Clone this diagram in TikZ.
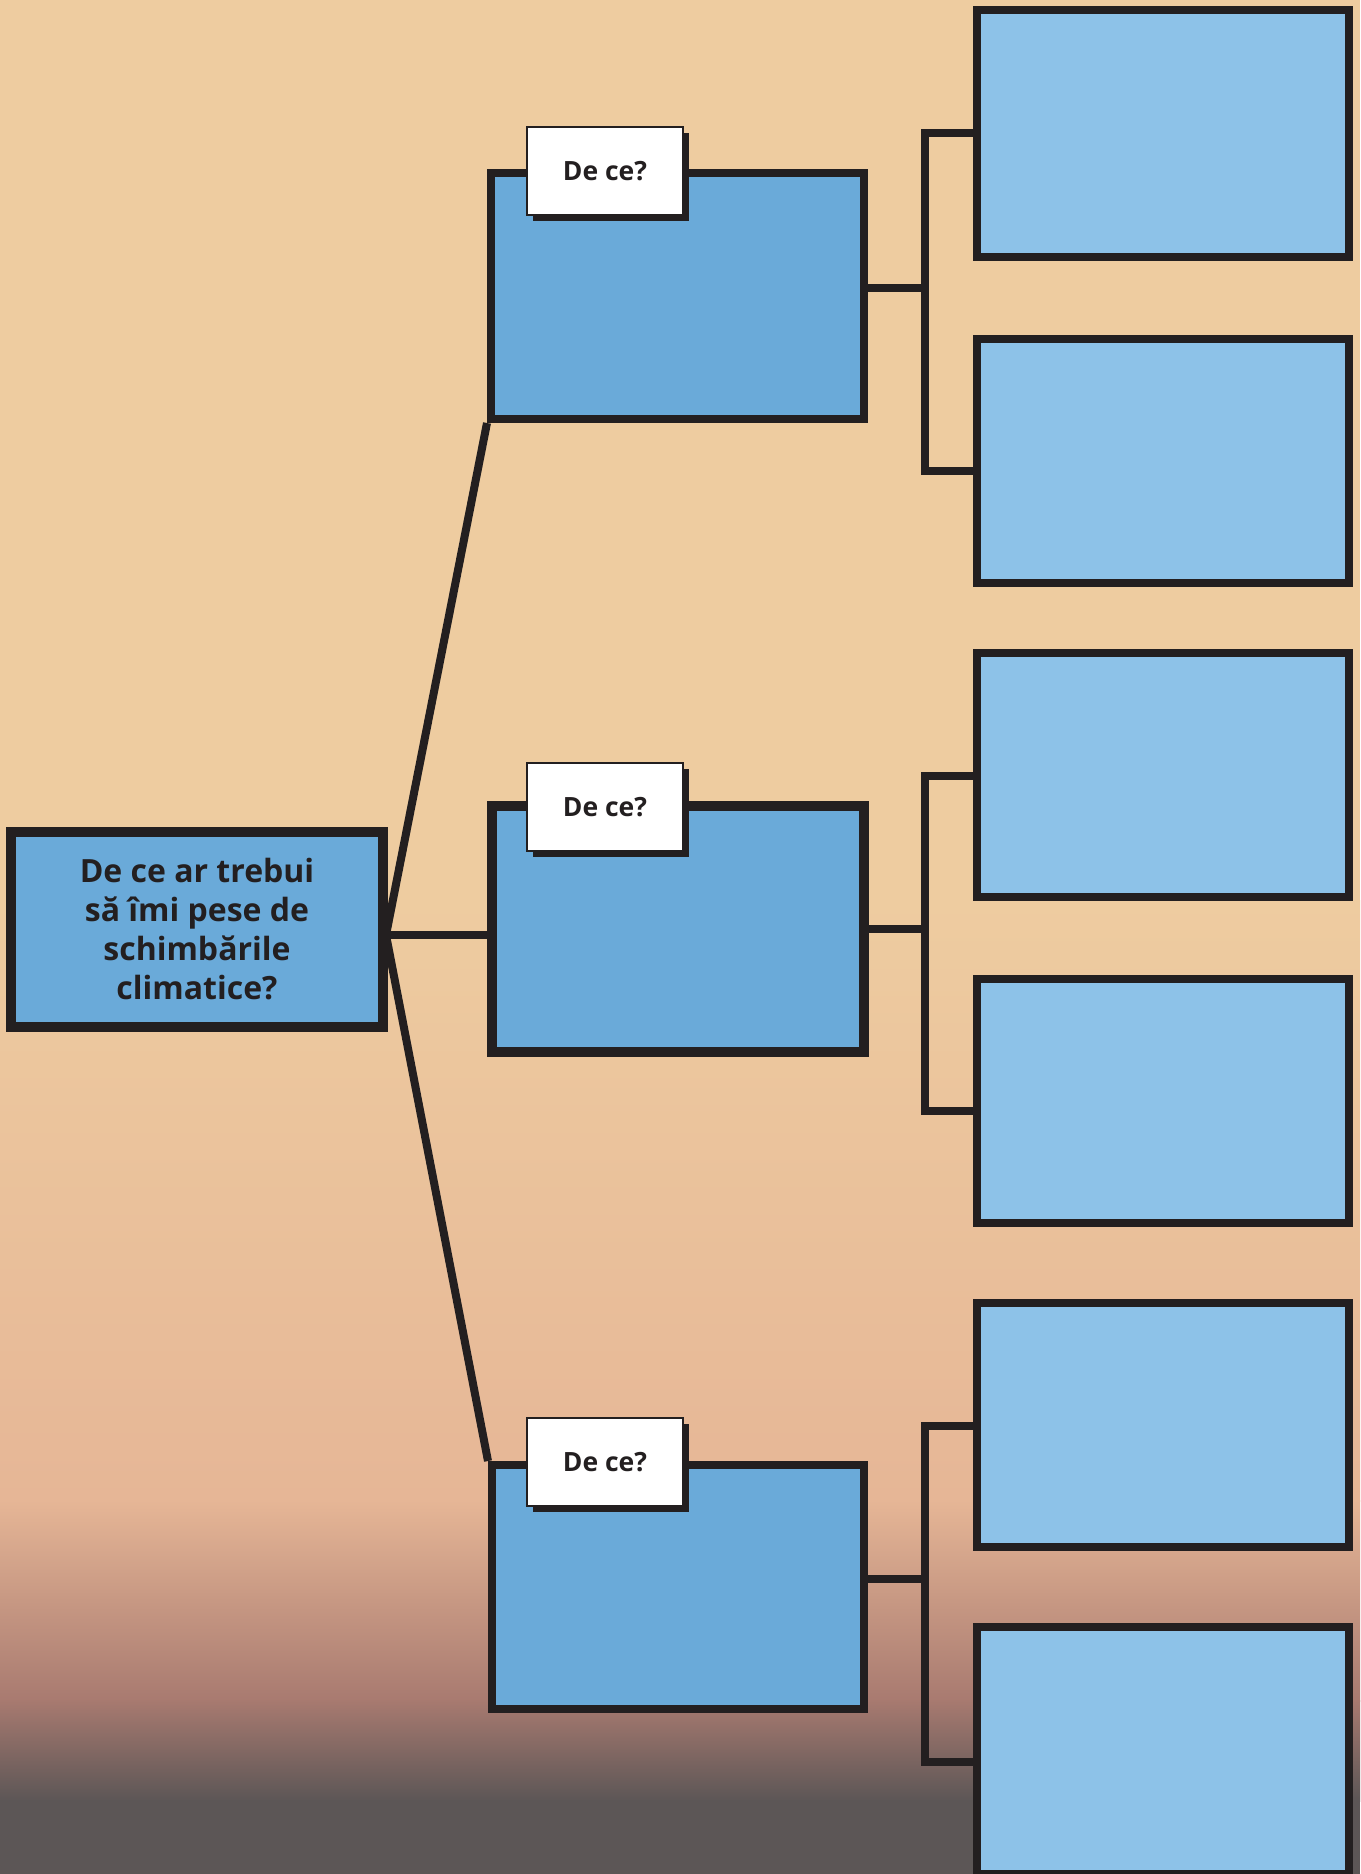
\documentclass[tikz,border=0pt]{standalone}
\usepackage{fontspec}
\setmainfont{Open Sans}
\usetikzlibrary{shadows}
\definecolor{linec}{HTML}{231F20}
\definecolor{midblue}{HTML}{6AAAD9}
\definecolor{lightblue}{HTML}{8DC2E8}
\definecolor{bgA}{RGB}{238,204,160}
\definecolor{bgB}{RGB}{230,182,150}
\definecolor{bgC}{RGB}{168,122,112}
\definecolor{bgD}{RGB}{92,86,86}
\begin{document}
\begin{tikzpicture}[x=1pt,y=-1pt,
  conn/.style={draw=linec,line width=8pt},
  cbox/.style={draw=linec,fill=midblue,line width=10pt,minimum width=372pt,minimum height=195pt,
    inner sep=0pt,align=center,text=linec,font=\bfseries\fontsize{32}{39}\selectfont},
  midbox/.style={draw=linec,fill=midblue,line width=8pt,minimum width=373pt,minimum height=246pt,inner sep=0pt},
  rbox/.style={draw=linec,fill=lightblue,line width=8pt,minimum width=372pt,inner sep=0pt},
  tabbox/.style={draw=linec,fill=white,line width=2pt,minimum width=156pt,minimum height=88pt,inner sep=0pt,
    text=linec,font=\bfseries\fontsize{26.5}{30}\selectfont,
    drop shadow={shadow xshift=6pt,shadow yshift=-6pt,fill=linec,opacity=1}}
]
\useasboundingbox (0,0) rectangle (1360,1874);
\clip (0,0) rectangle (1360,1874);
% background
\fill[bgA] (0,0) rectangle (1360,1874);
\shade[top color=bgA,bottom color=bgB] (0,900) rectangle (1360,1501);
\fill[bgB] (0,1500) rectangle (1360,1874);
\shade[top color=bgB,bottom color=bgC] (0,1500) rectangle (1360,1701);
\shade[top color=bgC,bottom color=bgD] (0,1700) rectangle (1360,1801);
\fill[bgD] (0,1800) rectangle (1360,1874);

% nodes
\node[cbox] (c) at (197,929.5) {De ce ar trebui\\să îmi pese de\\schimbările\\climatice?};

\node[midbox] (m1) at (677.5,296) {};
\node[midbox,line width=10pt,minimum width=372pt] (m2) at (678,929) {};
\node[midbox,minimum width=372pt,minimum height=244pt] (m3) at (678,1587) {};

\node[tabbox] (t1) at (605,171) {De ce?};
\node[tabbox] (t2) at (605,807) {De ce?};
\node[tabbox] (t3) at (605,1462) {De ce?};

\node[rbox,minimum height=247pt] (r1) at (1163,133.5) {};
\node[rbox,minimum height=244pt] (r2) at (1163,461) {};
\node[rbox,minimum height=244pt] (r3) at (1163,775) {};
\node[rbox,minimum height=244pt] (r4) at (1163,1101) {};
\node[rbox,minimum height=244pt] (r5) at (1163,1425) {};
\node[rbox,minimum height=247pt] (r6) at (1163,1750.5) {};

% fan from central node
\coordinate (f) at (386,935);
\draw[conn] (f) -- (m1.south west);
\draw[conn] (f) -- (m2.west |- f);
\draw[conn] (f) -- (m3.north west);

% brackets
\coordinate (j1) at (925,288);
\coordinate (k1a) at (925,133);
\coordinate (k1b) at (925,471);
\coordinate (j2) at (925,929);
\coordinate (k2a) at (925,776);
\coordinate (k2b) at (925,1111);
\coordinate (j3) at (925,1579);
\coordinate (k3a) at (925,1426);
\coordinate (k3b) at (925,1762);

\draw[conn] (m1.east |- j1) -- (j1);
\draw[conn] (r1.west |- k1a) -- (k1a) -- (k1b) -- (r2.west |- k1b);
\draw[conn] (m2.east |- j2) -- (j2);
\draw[conn] (r3.west |- k2a) -- (k2a) -- (k2b) -- (r4.west |- k2b);
\draw[conn] (m3.east |- j3) -- (j3);
\draw[conn] (r5.west |- k3a) -- (k3a) -- (k3b) -- (r6.west |- k3b);
\end{tikzpicture}
\end{document}
